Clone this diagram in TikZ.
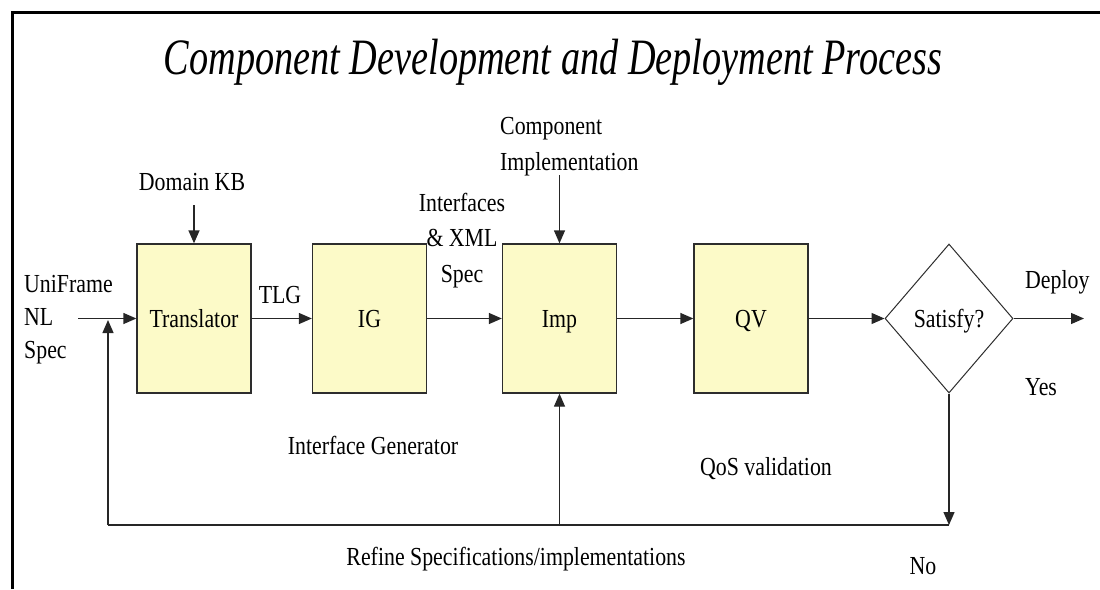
\documentclass[tikz,border=0pt]{standalone}
\usepackage{fontspec}
\setmainfont{Liberation Serif}[FakeStretch=0.84]
\newfontfamily\titlefont{Liberation Serif}[FakeStretch=0.75]
\usetikzlibrary{arrows.meta,shapes.geometric}
\definecolor{boxfill}{RGB}{252,250,200}
\definecolor{edge}{RGB}{45,45,45}
\begin{document}
\begin{tikzpicture}[x=1pt,y=-1pt,
  lbl/.style={font=\fontsize{26}{35.5}\selectfont, inner sep=0pt},
  proc/.style={draw=edge, line width=1.3pt, fill=boxfill, minimum width=114pt, minimum height=149pt, inner sep=0pt, text height=17pt, text depth=0pt, font=\fontsize{26}{30}\selectfont},
  decide/.style={diamond, draw=edge, line width=1pt, fill=white, minimum width=128pt, minimum height=149pt, inner sep=0pt, text height=17pt, text depth=0pt, font=\fontsize{26}{30}\selectfont},
  arr/.style={-{Triangle[length=13pt,width=11pt]}, line width=1.3pt, draw=black!85, fill=black},
  ln/.style={line width=1.3pt, draw=black!85}
]
\useasboundingbox (0,0) rectangle (1100,589);
% frame
\draw[line width=3pt] (12.5,589) -- (12.5,12.5) -- (1100,12.5);

% title
\node[inner sep=0pt, anchor=base, font=\titlefont\fontsize{51}{55}\selectfont\itshape] (title) at (553,74) {Component Development and Deployment Process};

% process boxes
\node[proc] (tr) at (194,318.5) {Translator};
\node[proc] (ig) at (369.5,318.5) {IG};
\node[proc] (imp) at (559.5,318.5) {Imp};
\node[proc] (qv) at (751,318.5) {QV};
\node[decide] (sat) at (949,318.5) {Satisfy?};

% labels
\node[lbl, anchor=base] (kb) at (192,190) {Domain KB};
\node[lbl, anchor=base west, align=left] (ci) at (500,170) {Component\\Implementation};
\node[lbl, anchor=base, align=center] (ifx) at (462,282) {Interfaces\\\& XML\\Spec};
\node[lbl, anchor=base west, align=left, font=\fontsize{26}{33}\selectfont] (uni) at (24,358) {UniFrame\\NL\\Spec};
\node[lbl, anchor=base] (tlg) at (280,303) {TLG};
\node[lbl, anchor=base west] (dep) at (1025,288) {Deploy};
\node[lbl, anchor=base west] (yes) at (1025,395) {Yes};
\node[lbl, anchor=base] (igl) at (373,454) {Interface Generator};
\node[lbl, anchor=base] (qos) at (766,475) {QoS validation};
\node[lbl, anchor=base] (ref) at (516,565) {Refine Specifications/implementations};
\node[lbl, anchor=base] (no) at (923,574) {No};

% coordinates
\coordinate (in) at (78,318.5);
\coordinate (out) at (1084,318.5);
\coordinate (kbt) at (tr.north |- 0,205);
\coordinate (cit) at (imp.north |- 0,175);
\coordinate (c1) at (sat.south |- 0,525);
\coordinate (c2) at (108,525);
\coordinate (c3) at (108,320);
\coordinate (c4) at (imp.south |- 0,525);

% connectors
\draw[arr] (in) -- (tr.west);
\draw[arr] (tr.east) -- (ig.west);
\draw[arr] (ig.east) -- (imp.west);
\draw[arr] (imp.east) -- (qv.west);
\draw[arr] (qv.east) -- (sat.west);
\draw[arr] (sat.east) -- (out);
\draw[arr] (kbt) -- (tr.north);
\draw[arr] (cit) -- (imp.north);
\draw[arr] (sat.south) -- (c1);
\draw[ln] (c1) -- (c2);
\draw[arr] (c2) -- (c3);
\draw[arr] (c4) -- (imp.south);
\end{tikzpicture}
\end{document}
